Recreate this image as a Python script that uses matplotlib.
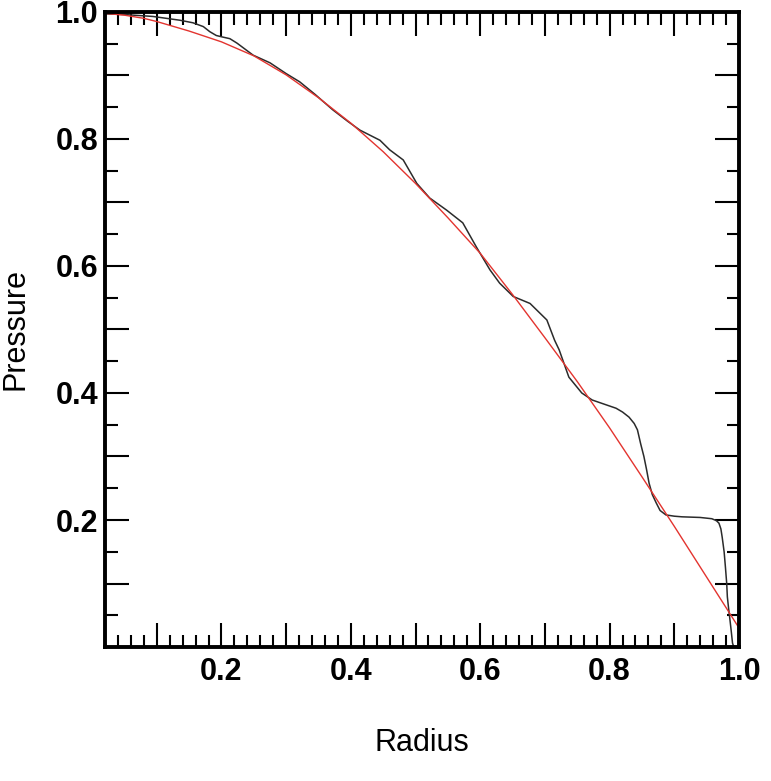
import matplotlib
matplotlib.use("Agg")
import matplotlib.pyplot as plt
from matplotlib.ticker import MultipleLocator, FuncFormatter

# Data
radius_sim = [0.02, 0.05, 0.094, 0.136, 0.156, 0.172, 0.182, 0.192, 0.20, 0.213,
              0.224, 0.249, 0.275, 0.30, 0.321, 0.345, 0.372, 0.395, 0.414, 0.445,
              0.46, 0.481, 0.502, 0.522, 0.548, 0.573, 0.594, 0.615, 0.63, 0.651,
              0.677, 0.703, 0.715, 0.722, 0.737, 0.757, 0.773, 0.79, 0.81, 0.82,
              0.83, 0.838, 0.843, 0.848, 0.853, 0.857, 0.861, 0.866, 0.872, 0.878,
              0.887, 0.90, 0.912, 0.94, 0.958, 0.965, 0.969, 0.972, 0.974, 0.977,
              0.979, 0.981, 0.982, 0.984, 0.986, 0.988, 0.99, 0.992]
pressure_sim = [0.997, 0.996, 0.993, 0.987, 0.983, 0.977, 0.969, 0.963, 0.961, 0.958,
                0.951, 0.932, 0.92, 0.903, 0.89, 0.87, 0.846, 0.828, 0.814, 0.798,
                0.783, 0.767, 0.73, 0.707, 0.688, 0.668, 0.63, 0.594, 0.573, 0.552,
                0.541, 0.515, 0.483, 0.468, 0.425, 0.40, 0.389, 0.383, 0.376, 0.37,
                0.362, 0.352, 0.342, 0.32, 0.30, 0.28, 0.258, 0.24, 0.227, 0.215,
                0.208, 0.206, 0.205, 0.204, 0.202, 0.199, 0.195, 0.186, 0.173, 0.15,
                0.126, 0.10, 0.079, 0.06, 0.043, 0.025, 0.006, 0.0]

radius_fit = [0.02, 0.05, 0.08, 0.10, 0.15, 0.20, 0.25, 0.30, 0.35, 0.40, 0.45, 0.50,
              0.55, 0.60, 0.65, 0.70, 0.75, 0.80, 0.85, 0.90, 0.95, 1.00]
pressure_fit = [0.998, 0.995, 0.99, 0.985, 0.97, 0.953, 0.931, 0.901, 0.865, 0.825, 0.78,
                0.73, 0.676, 0.62, 0.555, 0.487, 0.418, 0.345, 0.268, 0.19, 0.11, 0.03]

tick_labels = [0.2, 0.4, 0.6, 0.8, 1.0]

plt.rcParams['font.family'] = ['Liberation Sans', 'DejaVu Sans']

fig = plt.figure(figsize=(7.71, 7.81), dpi=100)
ax = fig.add_axes([105/771, 1 - 647/781, (739-105)/771, (647-12)/781])

ax.plot(radius_sim, pressure_sim, color='#2b2b2b', lw=1.1)
ax.plot(radius_fit, pressure_fit, color='#e3342f', lw=1.0)

ax.set_xlim(0.02, 1.0)
ax.set_ylim(0.0, 1.0)

ax.xaxis.set_major_locator(MultipleLocator(0.1))
ax.xaxis.set_minor_locator(MultipleLocator(0.02))
ax.yaxis.set_major_locator(MultipleLocator(0.1))
ax.yaxis.set_minor_locator(MultipleLocator(0.05))

def fmt(v, pos):
    for t in tick_labels:
        if abs(v - t) < 1e-6:
            return f"{t:.1f}"
    return ""

ax.xaxis.set_major_formatter(FuncFormatter(fmt))
ax.yaxis.set_major_formatter(FuncFormatter(fmt))

ax.tick_params(which='both', direction='in', top=True, right=True, width=1.5, color='black')
ax.tick_params(which='major', length=17)
ax.tick_params(which='minor', length=9)
ax.tick_params(axis='x', which='major', pad=7, labelsize=22)
ax.tick_params(axis='y', which='major', pad=5, labelsize=22)
for lbl in ax.get_xticklabels() + ax.get_yticklabels():
    lbl.set_fontweight('bold')

for s in ax.spines.values():
    s.set_linewidth(2.8)

ax.set_xlabel('Radius', fontsize=22, labelpad=30)
ax.set_ylabel('Pressure', fontsize=22, labelpad=18)

fig.savefig('out.png', dpi=100, facecolor='white')
